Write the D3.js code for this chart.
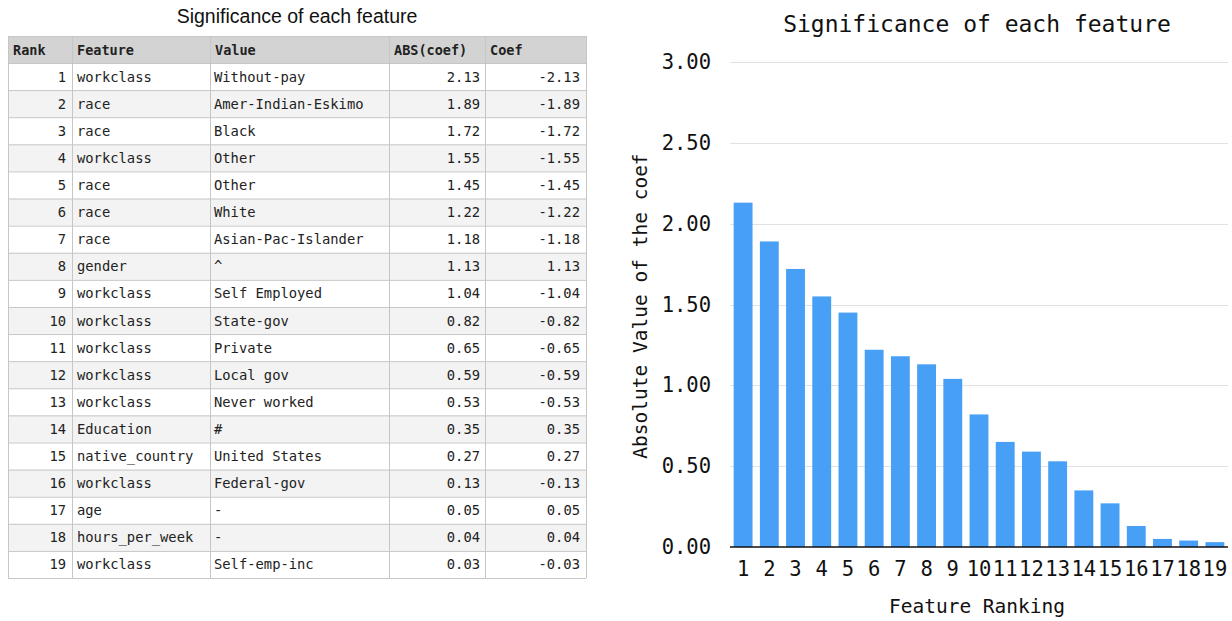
<!DOCTYPE html>
<html>
<head>
<meta charset="utf-8">
<script src="https://cdn.jsdelivr.net/npm/d3@7"></script>
<style>
  html, body { margin: 0; padding: 0; background: #ffffff; }
  svg { display: block; }
</style>
</head>
<body>
<svg id="chart" width="1232" height="621"></svg>
<script>
// ---------- data ----------
const ranks = [1,2,3,4,5,6,7,8,9,10,11,12,13,14,15,16,17,18,19];
const features = ["workclass","race","race","workclass","race","race","race","gender","workclass","workclass","workclass","workclass","workclass","Education","native_country","workclass","age","hours_per_week","workclass"];
const valuesText = ["Without-pay","Amer-Indian-Eskimo","Black","Other","Other","White","Asian-Pac-Islander","^","Self Employed","State-gov","Private","Local gov","Never worked","#","United States","Federal-gov","-","-","Self-emp-inc"];
const absCoef = [2.13,1.89,1.72,1.55,1.45,1.22,1.18,1.13,1.04,0.82,0.65,0.59,0.53,0.35,0.27,0.13,0.05,0.04,0.03];
const coef = [-2.13,-1.89,-1.72,-1.55,-1.45,-1.22,-1.18,1.13,-1.04,-0.82,-0.65,-0.59,-0.53,0.35,0.27,-0.13,0.05,0.04,-0.03];
const columns = ["Rank","Feature","Value","ABS(coef)","Coef"];
const yTicks = [0,0.5,1,1.5,2,2.5,3];
const titleText = "Significance of each feature";
const xLabel = "Feature Ranking";
const yLabel = "Absolute Value of the coef";

const mono = "'DejaVu Sans Mono', 'Liberation Mono', monospace";
const sans = "'Liberation Sans', Arial, Helvetica, sans-serif";
const svg = d3.select("#chart");

// ---------- table ----------
const tbl = svg.append("g");
const colEdges = [8, 72, 210, 389, 485, 586];
const headerTop = 36, headerBottom = 63;
const rowY = d3.scaleBand().domain(ranks).range([headerBottom, 578]);
const rowH = rowY.bandwidth();

tbl.append("text").attr("x", 297).attr("y", 23).attr("text-anchor", "middle")
  .attr("font-family", sans).attr("font-size", 19.5).attr("fill", "#111").text(titleText);

tbl.append("rect").attr("x", colEdges[0]).attr("y", headerTop)
  .attr("width", colEdges[5]-colEdges[0]).attr("height", headerBottom-headerTop)
  .attr("fill", "#d3d3d3");

tbl.selectAll("rect.row").data(ranks).enter().append("rect")
  .attr("class","row")
  .attr("x", colEdges[0]).attr("y", d => rowY(d))
  .attr("width", colEdges[5]-colEdges[0]).attr("height", rowH)
  .attr("fill", d => d % 2 === 0 ? "#f3f3f3" : "#ffffff");

// grid lines
const lineColor = "#c6c6c6";
const hLines = [headerTop, headerBottom].concat(ranks.map(r => rowY(r) + rowH));
tbl.selectAll("line.h").data(hLines).enter().append("line")
  .attr("x1", colEdges[0]).attr("x2", colEdges[5])
  .attr("y1", d => d + 0.5).attr("y2", d => d + 0.5)
  .attr("stroke", lineColor).attr("stroke-width", 1);
tbl.selectAll("line.v").data(colEdges).enter().append("line")
  .attr("x1", d => d + 0.5).attr("x2", d => d + 0.5)
  .attr("y1", headerTop).attr("y2", 578)
  .attr("stroke", lineColor).attr("stroke-width", 1);

// header text
tbl.selectAll("text.hdr").data(columns).enter().append("text")
  .attr("x", (d,i) => colEdges[i] + 5).attr("y", (headerTop+headerBottom)/2 + 5)
  .attr("font-family", mono).attr("font-size", 13.5).attr("font-weight", "bold")
  .attr("fill", "#222").text(d => d);

const cellFont = 13.8;
function cellCol(data, xi, anchor, fmt) {
  tbl.selectAll(null).data(data).enter().append("text")
    .attr("x", xi).attr("y", (d,i) => rowY(ranks[i]) + rowH/2 + 5)
    .attr("text-anchor", anchor)
    .attr("font-family", mono).attr("font-size", cellFont).attr("fill", "#222")
    .text(fmt);
}
cellCol(ranks, colEdges[1] - 6, "end", d => d);
cellCol(features, colEdges[1] + 5, "start", d => d);
cellCol(valuesText, colEdges[2] + 4, "start", d => d);
cellCol(absCoef, colEdges[4] - 5, "end", d => d3.format(".2f")(d));
cellCol(coef, colEdges[5] - 6, "end", d => d3.format(".2f")(d).replace("−","-"));

// ---------- bar chart ----------
const cg = svg.append("g");
const x = d3.scaleBand().domain(ranks).range([730, 1228]).paddingInner(0.28).paddingOuter(0.14);
const y = d3.scaleLinear().domain([0, 3]).range([547, 62]);

cg.append("text").attr("x", 977).attr("y", 32).attr("text-anchor", "middle")
  .attr("font-family", mono).attr("font-size", 23).attr("fill", "#111").text(titleText);

// gridlines
cg.selectAll("line.grid").data(yTicks.filter(t => t > 0)).enter().append("line")
  .attr("x1", 730).attr("x2", 1228)
  .attr("y1", d => Math.round(y(d)) + 0.5).attr("y2", d => Math.round(y(d)) + 0.5)
  .attr("stroke", "#e2e2e2").attr("stroke-width", 1);

// y axis
const yAxis = d3.axisLeft(y).tickValues(yTicks).tickFormat(d3.format(".2f")).tickSize(0).tickPadding(19);
const yg = cg.append("g").attr("transform", "translate(730,0)").call(yAxis);
yg.select(".domain").remove();
yg.selectAll("text").attr("font-family", mono).attr("font-size", 20.5).attr("fill", "#111");

// bars
cg.selectAll("rect.bar").data(absCoef).enter().append("rect")
  .attr("x", (d,i) => x(ranks[i])).attr("width", x.bandwidth())
  .attr("y", d => y(d)).attr("height", d => y(0) - y(d))
  .attr("fill", "#48a0f6");

// baseline
cg.append("line").attr("x1", 730).attr("x2", 1228).attr("y1", y(0)).attr("y2", y(0))
  .attr("stroke", "#111").attr("stroke-width", 1.5);

// x axis
const xAxis = d3.axisBottom(x).tickSize(0).tickPadding(14);
const xg = cg.append("g").attr("transform", `translate(0,${y(0)})`).call(xAxis);
xg.select(".domain").remove();
xg.selectAll("text").attr("font-family", mono).attr("font-size", 20.5).attr("fill", "#111");

cg.append("text").attr("x", 977).attr("y", 613).attr("text-anchor", "middle")
  .attr("font-family", mono).attr("font-size", 19.5).attr("fill", "#111").text(xLabel);

cg.append("text").attr("transform", "translate(647,306) rotate(-90)").attr("text-anchor", "middle")
  .attr("font-family", mono).attr("font-size", 19.5).attr("fill", "#111").text(yLabel);
</script>
</body>
</html>
